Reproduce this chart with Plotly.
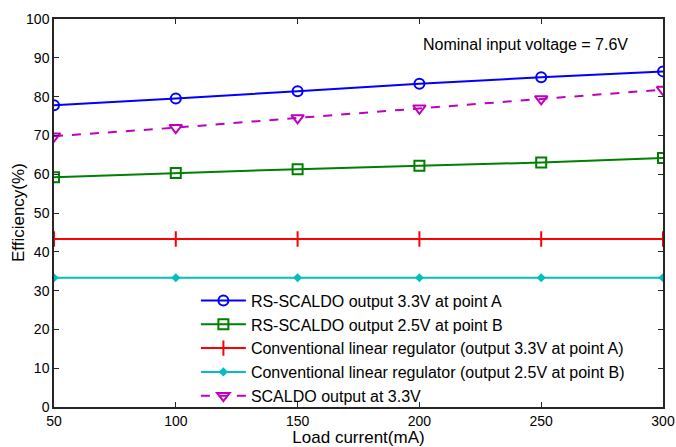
import plotly.graph_objects as go

load_current = [50, 100, 150, 200, 250, 300]
rs_scaldo_a = [77.8, 79.5, 81.4, 83.3, 85.0, 86.5]
rs_scaldo_b = [59.2, 60.3, 61.3, 62.2, 63.0, 64.2]
linear_a = [43.3, 43.3, 43.3, 43.3, 43.3, 43.3]
linear_b = [33.3, 33.3, 33.3, 33.3, 33.3, 33.3]
scaldo = [69.8, 72.0, 74.5, 77.0, 79.4, 81.8]

names = [
    "RS-SCALDO output 3.3V at point A",
    "RS-SCALDO output 2.5V at point B",
    "Conventional linear regulator (output 3.3V at point A)",
    "Conventional linear regulator (output 2.5V at point B)",
    "SCALDO output at 3.3V",
]

fig = go.Figure()
fig.add_trace(go.Scatter(x=load_current, y=rs_scaldo_a, name=names[0], mode="lines+markers",
                         line=dict(color="#0000ff", width=2),
                         marker=dict(symbol="circle-open", size=10, color="#0000ff", line=dict(width=2))))
fig.add_trace(go.Scatter(x=load_current, y=rs_scaldo_b, name=names[1], mode="lines+markers",
                         line=dict(color="#008000", width=2),
                         marker=dict(symbol="square-open", size=10, color="#008000", line=dict(width=2))))
fig.add_trace(go.Scatter(x=load_current, y=linear_a, name=names[2], mode="lines+markers",
                         line=dict(color="#ff0000", width=2),
                         marker=dict(symbol="cross-thin", size=11, color="#ff0000", line=dict(width=2, color="#ff0000"))))
fig.add_trace(go.Scatter(x=load_current, y=linear_b, name=names[3], mode="lines+markers",
                         line=dict(color="#00bfbf", width=2),
                         marker=dict(symbol="diamond", size=7, color="#00bfbf")))
fig.add_trace(go.Scatter(x=load_current, y=scaldo, name=names[4], mode="lines+markers",
                         line=dict(color="#bf00bf", width=2, dash="dash"),
                         marker=dict(symbol="triangle-down-open", size=11, color="#bf00bf", line=dict(width=2))))

axis_common = dict(showgrid=False, zeroline=False, showline=True, linecolor="#262626", linewidth=1.5,
                   mirror="ticks", ticks="inside", ticklen=5, tickcolor="#262626", automargin=False,
                   tickfont=dict(family="Liberation Sans, Arial", size=14, color="#000000"))

fig.update_layout(
    width=676, height=447,
    margin=dict(l=54, r=13, t=19, b=40),
    paper_bgcolor="white", plot_bgcolor="white",
    font=dict(family="Liberation Sans, Arial", size=15, color="#000000"),
    xaxis=dict(range=[50, 300], tickvals=[50, 100, 150, 200, 250, 300],
               title=dict(text="Load current(mA)", font=dict(size=17), standoff=3), **axis_common),
    yaxis=dict(range=[0, 100], tickvals=list(range(0, 101, 10)), **axis_common),
    legend=dict(x=0.233, y=0.318, xanchor="left", yanchor="top", bgcolor="rgba(0,0,0,0)",
                font=dict(size=16, family="Liberation Sans, Arial"), itemwidth=45, tracegroupgap=0),
    showlegend=True,
    annotations=[
        dict(x=0.946, y=0.933, xref="paper", yref="paper", xanchor="right", yanchor="middle",
             text="Nominal input voltage = 7.6V", showarrow=False,
             font=dict(size=16, family="Liberation Sans, Arial")),
        dict(x=-0.059, y=0.5, xref="paper", yref="paper", xanchor="center", yanchor="middle",
             text="Efficiency(%)", textangle=-90, showarrow=False,
             font=dict(size=17, family="Liberation Sans, Arial")),
    ],
)

fig.write_html(
    "out.html",
    config={"displayModeBar": False},
    post_script="document.documentElement.style.margin='0';document.body.style.margin='0';"
                "document.body.style.overflow='hidden';",
)
